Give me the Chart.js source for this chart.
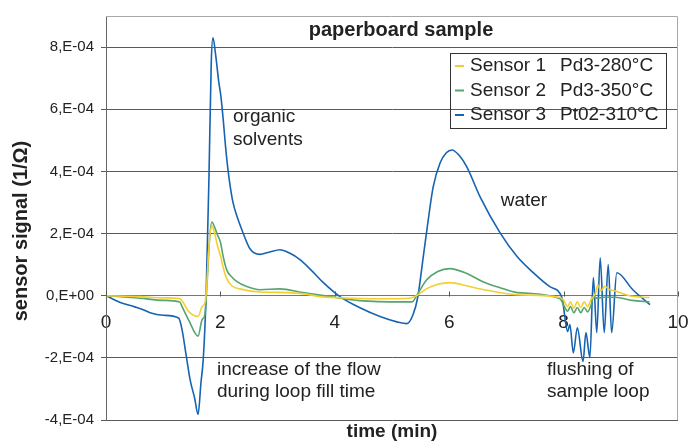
<!DOCTYPE html>
<html>
<head>
<meta charset="utf-8">
<title>paperboard sample</title>
<script src="https://cdn.jsdelivr.net/npm/chart.js@4/dist/chart.umd.min.js"></script>
<style>
    html, body { margin: 0; padding: 0; background: #fff; }
    #chart-wrap { width: 689px; height: 442px; }
</style>
</head>
<body>
<div id="chart-wrap"><canvas id="sensor-chart" width="689" height="442"></canvas></div>
<script>
// Signal values are in units of 1E-4 (1/Ω), time in minutes
const seriesNames = ['Sensor 1', 'Sensor 2', 'Sensor 3'];
const seriesSensors = ['Pd3-280°C', 'Pd3-350°C', 'Pt02-310°C'];
const seriesColors = ['#f3cf33', '#55a56c', '#1664b0'];

const s1Time = [0, 0.59, 1.0, 1.29, 1.36, 1.42, 1.52, 1.61, 1.68, 1.73, 1.76, 1.8, 1.85, 1.9, 1.95, 2.0, 2.05, 2.11, 2.2, 2.34, 2.69, 3.16, 3.5, 3.74, 4.3, 4.9, 5.3, 5.43, 5.6, 5.8, 6.01, 6.3, 6.59, 7.19, 7.94, 8.0, 8.07, 8.12, 8.18, 8.24, 8.3, 8.36, 8.42, 8.48, 8.55, 8.6, 8.65, 8.72, 8.8, 8.9, 9.2, 9.5];
const s1Signal = [0, -0.03, -0.07, -0.1, -0.25, -0.45, -0.62, -0.67, -0.35, -0.23, 0.3, 1.6, 2.25, 2.0, 1.6, 1.3, 0.9, 0.55, 0.32, 0.22, 0.12, 0.1, 0.05, -0.03, -0.08, -0.1, -0.08, 0, 0.22, 0.37, 0.42, 0.32, 0.2, 0.03, -0.06, -0.15, -0.35, -0.2, -0.4, -0.2, -0.38, -0.2, -0.35, -0.12, 0.05, 0.35, 0.15, 0.3, 0.2, 0.15, -0.02, -0.06];

const s2Time = [0, 0.59, 1.0, 1.29, 1.33, 1.45, 1.61, 1.68, 1.73, 1.77, 1.81, 1.85, 1.9, 1.95, 2.0, 2.05, 2.11, 2.2, 2.29, 2.45, 2.69, 3.04, 3.44, 3.92, 4.44, 5.19, 5.35, 5.43, 5.6, 5.8, 6.01, 6.3, 6.59, 6.9, 7.19, 7.94, 8.0, 8.07, 8.12, 8.18, 8.24, 8.3, 8.36, 8.42, 8.48, 8.52, 8.6, 8.7, 8.9, 9.2, 9.5];
const s2Signal = [0, -0.08, -0.15, -0.2, -0.35, -0.8, -1.3, -0.77, -0.6, 0.5, 1.8, 2.37, 2.2, 1.95, 1.73, 1.25, 0.83, 0.6, 0.45, 0.3, 0.19, 0.22, 0.1, -0.03, -0.16, -0.2, -0.2, 0, 0.5, 0.78, 0.87, 0.72, 0.45, 0.25, 0.1, -0.1, -0.3, -0.5, -0.35, -0.55, -0.38, -0.55, -0.38, -0.52, -0.3, -0.06, -0.08, -0.05, -0.05, -0.15, -0.2];

const s3Time = [0, 0.25, 0.5, 0.65, 0.77, 1.0, 1.27, 1.33, 1.4, 1.47, 1.55, 1.61, 1.66, 1.7, 1.75, 1.8, 1.84, 1.87, 1.92, 1.97, 2.01, 2.05, 2.1, 2.15, 2.22, 2.3, 2.38, 2.52, 2.69, 2.85, 3.04, 3.2, 3.39, 3.6, 3.8, 4.09, 4.44, 4.79, 5.1, 5.26, 5.37, 5.45, 5.55, 5.61, 5.72, 5.84, 5.95, 6.05, 6.18, 6.31, 6.54, 6.89, 7.19, 7.47, 7.76, 7.97, 8.07, 8.11, 8.17, 8.24, 8.34, 8.39, 8.46, 8.52, 8.58, 8.64, 8.71, 8.78, 8.84, 8.93, 9.21, 9.51];
const s3Signal = [0, -0.22, -0.36, -0.45, -0.55, -0.63, -0.72, -1.1, -1.9, -2.7, -3.3, -3.82, -2.8, -2.05, 0, 3.8, 7.5, 8.3, 7.7, 6.9, 6.4, 5.65, 4.6, 3.8, 3.0, 2.5, 2.1, 1.5, 1.33, 1.4, 1.48, 1.38, 1.16, 0.8, 0.42, -0.03, -0.39, -0.67, -0.85, -0.9, -0.6, -0.05, 1.3, 2.12, 3.5, 4.27, 4.6, 4.69, 4.5, 4.14, 3.18, 2.02, 1.25, 0.74, 0.29, -0.06, -1.15, -0.93, -1.84, -1.03, -2.12, -1.19, -1.99, 0.58, -1.19, 1.22, -1.19, 1.0, -1.19, 0.74, 0.19, -0.29];

// Axis range and ticks
const xTicks = [0, 2, 4, 6, 8, 10];
const yTicks = [-4, -2, 0, 2, 4, 6, 8];
const yMin = -4, yMax = 9;

// Text notes placed at (time, signal)
const notes = [
    { x: 2.22, y: 5.75, lines: ['organic', 'solvents'] },
    { x: 6.9, y: 3.05, lines: ['water'] },
    { x: 1.94, y: -2.37, lines: ['increase of the flow', 'during loop fill time'] },
    { x: 7.71, y: -2.38, lines: ['flushing of', 'sample loop'] }
];

const FONT = "'Liberation Sans', Arial, Helvetica, sans-serif";

function toPoints(xs, ys) {
    return xs.map((x, i) => ({ x: x, y: ys[i] }));
}

// Title, axis titles, frame, notes and the boxed legend
const decorPlugin = {
    id: 'decor',
    afterDraw(chart) {
        const ctx = chart.ctx;
        const area = chart.chartArea;
        const xs = chart.scales.x;
        const ys = chart.scales.y;
        ctx.save();

        // top and right frame
        ctx.strokeStyle = '#a8a8a8';
        ctx.lineWidth = 1;
        ctx.beginPath();
        ctx.moveTo(area.left, area.top + 0.5);
        ctx.lineTo(area.right - 0.5, area.top + 0.5);
        ctx.lineTo(area.right - 0.5, area.bottom);
        ctx.stroke();

        // small tick marks on top of the zero axis
        ctx.strokeStyle = '#555';
        const y0 = Math.round(ys.getPixelForValue(0)) + 0.5;
        xTicks.forEach(t => {
            const px = Math.round(xs.getPixelForValue(t)) + 0.5;
            ctx.beginPath();
            ctx.moveTo(px, y0);
            ctx.lineTo(px, y0 - 5);
            ctx.stroke();
        });

        ctx.fillStyle = '#222';
        ctx.textBaseline = 'middle';

        // chart title
        ctx.font = 'bold 20px ' + FONT;
        ctx.textAlign = 'center';
        ctx.fillText('paperboard sample', 401, 30);

        // x axis title
        ctx.font = 'bold 19px ' + FONT;
        ctx.fillText('time (min)', (area.left + area.right) / 2, 432);

        // y axis title
        ctx.save();
        ctx.font = 'bold 20px ' + FONT;
        ctx.translate(21, 231);
        ctx.rotate(-Math.PI / 2);
        ctx.fillText('sensor signal (1/\u03A9)', 0, 0);
        ctx.restore();

        // notes
        ctx.font = '19px ' + FONT;
        ctx.textAlign = 'left';
        notes.forEach(n => {
            const px = xs.getPixelForValue(n.x);
            const py = ys.getPixelForValue(n.y);
            n.lines.forEach((line, i) => ctx.fillText(line, px, py + i * 22.5));
        });

        // legend box
        const lx = 450, ly = 53, lw = 216, lh = 75;
        ctx.strokeStyle = '#333';
        ctx.strokeRect(lx + 0.5, ly + 0.5, lw, lh);
        seriesNames.forEach((name, i) => {
            const rowY = 66 + i * 24.5;
            ctx.strokeStyle = seriesColors[i];
            ctx.lineWidth = 2;
            ctx.beginPath();
            ctx.moveTo(lx + 5, rowY);
            ctx.lineTo(lx + 14, rowY);
            ctx.stroke();
            ctx.fillStyle = '#222';
            ctx.fillText(name, lx + 20, rowY);
            ctx.fillText(seriesSensors[i], lx + 110, rowY);
        });

        ctx.restore();
    }
};

document.addEventListener('DOMContentLoaded', function() {
    const ctx = document.getElementById('sensor-chart').getContext('2d');
    const signals = [toPoints(s1Time, s1Signal), toPoints(s2Time, s2Signal), toPoints(s3Time, s3Signal)];

    new Chart(ctx, {
        type: 'line',
        data: {
            datasets: seriesNames.map((name, i) => ({
                label: name + '  ' + seriesSensors[i],
                data: signals[i],
                borderColor: seriesColors[i],
                borderWidth: 1.6,
                pointRadius: 0,
                fill: false,
                cubicInterpolationMode: 'monotone'
            }))
        },
        options: {
            responsive: false,
            devicePixelRatio: 1,
            animation: false,
            layout: {
                padding: { left: 0, right: 11, top: 15, bottom: 22 }
            },
            plugins: {
                legend: { display: false },
                title: { display: false },
                tooltip: { enabled: false }
            },
            scales: {
                x: {
                    type: 'linear',
                    position: { y: 0 },
                    min: 0,
                    max: 10,
                    afterBuildTicks(scale) {
                        scale.ticks = xTicks.map(v => ({ value: v }));
                    },
                    afterFit(scale) {
                        // no extra room for the end labels
                        scale.paddingLeft = 0;
                        scale.paddingRight = 0;
                    },
                    grid: { display: false, drawTicks: false },
                    border: { display: true, color: '#777', width: 1 },
                    ticks: {
                        padding: 16,
                        color: '#222',
                        font: { family: FONT, size: 19 },
                        maxRotation: 0
                    }
                },
                y: {
                    type: 'linear',
                    min: yMin,
                    max: yMax,
                    afterBuildTicks(scale) {
                        scale.ticks = yTicks.map(v => ({ value: v }));
                    },
                    afterFit(scale) {
                        scale.width = 106;
                    },
                    grid: {
                        color: '#5a5a5a',
                        lineWidth: 1,
                        drawTicks: true,
                        tickLength: 5
                    },
                    border: { display: true, color: '#666', width: 1 },
                    ticks: {
                        padding: 7,
                        color: '#222',
                        font: { family: FONT, size: 15 },
                        callback: function(value) {
                            if (value === 0) return '0,E+00';
                            return value + ',E-04';
                        }
                    }
                }
            }
        },
        plugins: [decorPlugin]
    });
});
</script>
</body>
</html>
